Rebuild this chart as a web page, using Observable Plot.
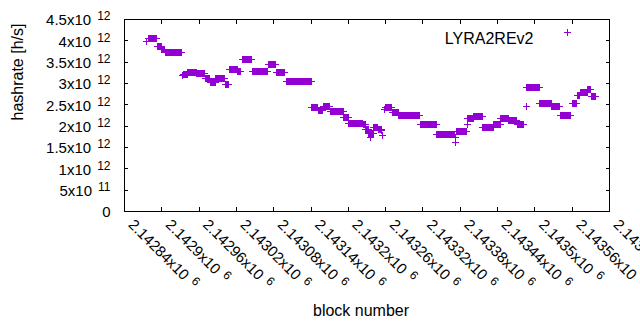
<!DOCTYPE html>
<html><head><meta charset="utf-8">
<style>html,body{margin:0;padding:0;background:#fff;} #chart{width:640px;height:330px;overflow:hidden;}</style>
</head><body><div id="chart"></div>
<script src="https://cdn.jsdelivr.net/npm/d3@7"></script>
<script src="https://cdn.jsdelivr.net/npm/@observablehq/plot@0.6"></script>
<script>
// ---- data ----
const seriesName = "LYRA2REv2";
const xTitle = "block number";
const yTitle = "hashrate [h/s]";

// runs of consecutive blocks that share the same hashrate reading (x10^12 h/s)
const runStart = [2142876,2142879,2142893,2142900,2142906,2142934,2142935,2142942,2142956,2142970,2142978,2142987,2143002,2143009,2143022,2143030,2143046,2143072,2143085,2143100,2143141,2143152,2143160,2143171,2143193,2143201,2143224,2143228,2143233,2143236,2143237,2143241,2143248,2143254,2143255,2143258,2143259,2143271,2143281,2143316,2143342,2143372,2143373,2143374,2143391,2143392,2143402,2143416,2143434,2143445,2143458,2143472,2143486,2143487,2143508,2143527,2143541,2143560,2143568,2143573,2143585,2143591];
const runEnd   = [2142876,2142892,2142899,2142905,2142932,2142934,2142941,2142955,2142969,2142977,2142986,2143001,2143008,2143021,2143027,2143045,2143070,2143083,2143097,2143140,2143151,2143159,2143170,2143192,2143200,2143223,2143227,2143232,2143235,2143236,2143240,2143247,2143253,2143254,2143255,2143258,2143270,2143280,2143315,2143341,2143370,2143372,2143373,2143390,2143391,2143401,2143415,2143433,2143444,2143457,2143471,2143481,2143486,2143507,2143526,2143540,2143558,2143567,2143572,2143584,2143590,2143597];
const runValue = [3.98,4.05,3.86,3.79,3.72,3.18,3.21,3.26,3.23,3.12,3.02,3.11,2.98,3.32,3.27,3.57,3.27,3.44,3.25,3.04,2.43,2.37,2.46,2.34,2.20,2.07,2.04,1.92,1.82,1.74,1.82,1.98,1.92,1.91,1.78,2.38,2.43,2.31,2.24,2.05,1.81,1.62,1.73,1.87,2.05,2.19,2.22,1.96,2.05,2.18,2.13,2.03,2.46,2.90,2.54,2.45,2.24,2.52,2.72,2.80,2.87,2.69];

const yTickValues = [0,0.5e12,1e12,1.5e12,2e12,2.5e12,3e12,3.5e12,4e12,4.5e12];
const yTickBase = ["0","5x10","1x10","1.5x10","2x10","2.5x10","3x10","3.5x10","4x10","4.5x10"];
const yTickExp  = ["","11","12","12","12","12","12","12","12","12"];

const xTickValues = [2142840,2142900,2142960,2143020,2143080,2143140,2143200,2143260,2143320,2143380,2143440,2143500,2143560,2143620];
const xTickBase = ["2.14284x10","2.1429x10","2.14296x10","2.14302x10","2.14308x10","2.14314x10","2.1432x10","2.14326x10","2.14332x10","2.14338x10","2.14344x10","2.1435x10","2.14356x10","2.14362x10"];
const xTickExp  = ["6","6","6","6","6","6","6","6","6","6","6","6","6","6"];

// ---- build table ----
const points = [];
runStart.forEach((s, i) => {
  for (let b = s; b <= runEnd[i]; b++) points.push({block: b, hashrate: runValue[i] * 1e12});
});

const color = "#9400d3";
const chart = Plot.plot({
  width: 640, height: 330,
  marginLeft: 124, marginRight: 31, marginTop: 19, marginBottom: 119,
  style: {fontFamily: "'Liberation Sans', Arial, sans-serif", fontSize: "15px", background: "#fff", color: "#000", overflow: "visible"},
  x: {domain: [2142840, 2143620], axis: null},
  y: {domain: [0, 4.5e12], axis: null},
  marks: [
    Plot.axisY(yTickValues, {anchor: "left", tickSize: 4, dx: 4, tickFormat: () => "", label: null, shapeRendering: "crispEdges"}),
    Plot.axisY(yTickValues, {anchor: "right", tickSize: 4, dx: -4, tickFormat: () => "", label: null, shapeRendering: "crispEdges"}),
    Plot.axisX(xTickValues, {anchor: "bottom", tickSize: 4, dy: -4, tickFormat: () => "", label: null, shapeRendering: "crispEdges"}),
    Plot.axisX(xTickValues, {anchor: "top", tickSize: 4, dy: 4, tickFormat: () => "", label: null, shapeRendering: "crispEdges"}),
    Plot.frame({stroke: "#000", strokeWidth: 1, shapeRendering: "crispEdges"}),
    Plot.dot(points, {x: "block", y: "hashrate", symbol: "plus", r: 2.4, stroke: color, strokeWidth: 1, shapeRendering: "crispEdges"}),
    Plot.text(yTickValues, {y: d => d, text: (d, i) => yTickBase[i], frameAnchor: "left", textAnchor: "end", dx: -14, dy: 1, fontSize: 15, fill: "#000"}),
    Plot.text(xTickValues, {x: d => d, text: (d, i) => xTickBase[i], frameAnchor: "bottom", textAnchor: "start", rotate: 45, dx: 3, dy: 14, fontSize: 15, fill: "#000"}),
    Plot.text([yTitle], {text: d => d, frameAnchor: "left", rotate: -90, dx: -107, dy: 5, fontSize: 16, fill: "#000"}),
    Plot.text([xTitle], {text: d => d, frameAnchor: "bottom", dx: -6, dy: 104, fontSize: 16, fill: "#000"}),
    Plot.text([seriesName], {text: d => d, frameAnchor: "top-right", textAnchor: "end", dx: -76, dy: 13, fontSize: 16, fill: "#000"}),
    Plot.dot([seriesName], {frameAnchor: "top-right", dx: -42, dy: 13, symbol: "plus", r: 2.4, stroke: color, strokeWidth: 1, shapeRendering: "crispEdges"})
  ]
});

// superscript exponents as tspans
const expMap = new Map();
yTickBase.forEach((b, i) => { if (yTickExp[i]) expMap.set(b, yTickExp[i]); });
xTickBase.forEach((b, i) => expMap.set(b, xTickExp[i]));
chart.querySelectorAll("text").forEach(t => {
  const k = t.textContent;
  if (expMap.has(k)) {
    const ts = document.createElementNS("http://www.w3.org/2000/svg", "tspan");
    ts.setAttribute("font-size", "12");
    ts.setAttribute("dx", "6");
    ts.setAttribute("dy", "-5");
    ts.textContent = expMap.get(k);
    t.appendChild(ts);
  }
});
document.getElementById("chart").appendChild(chart);
</script>
</body></html>
